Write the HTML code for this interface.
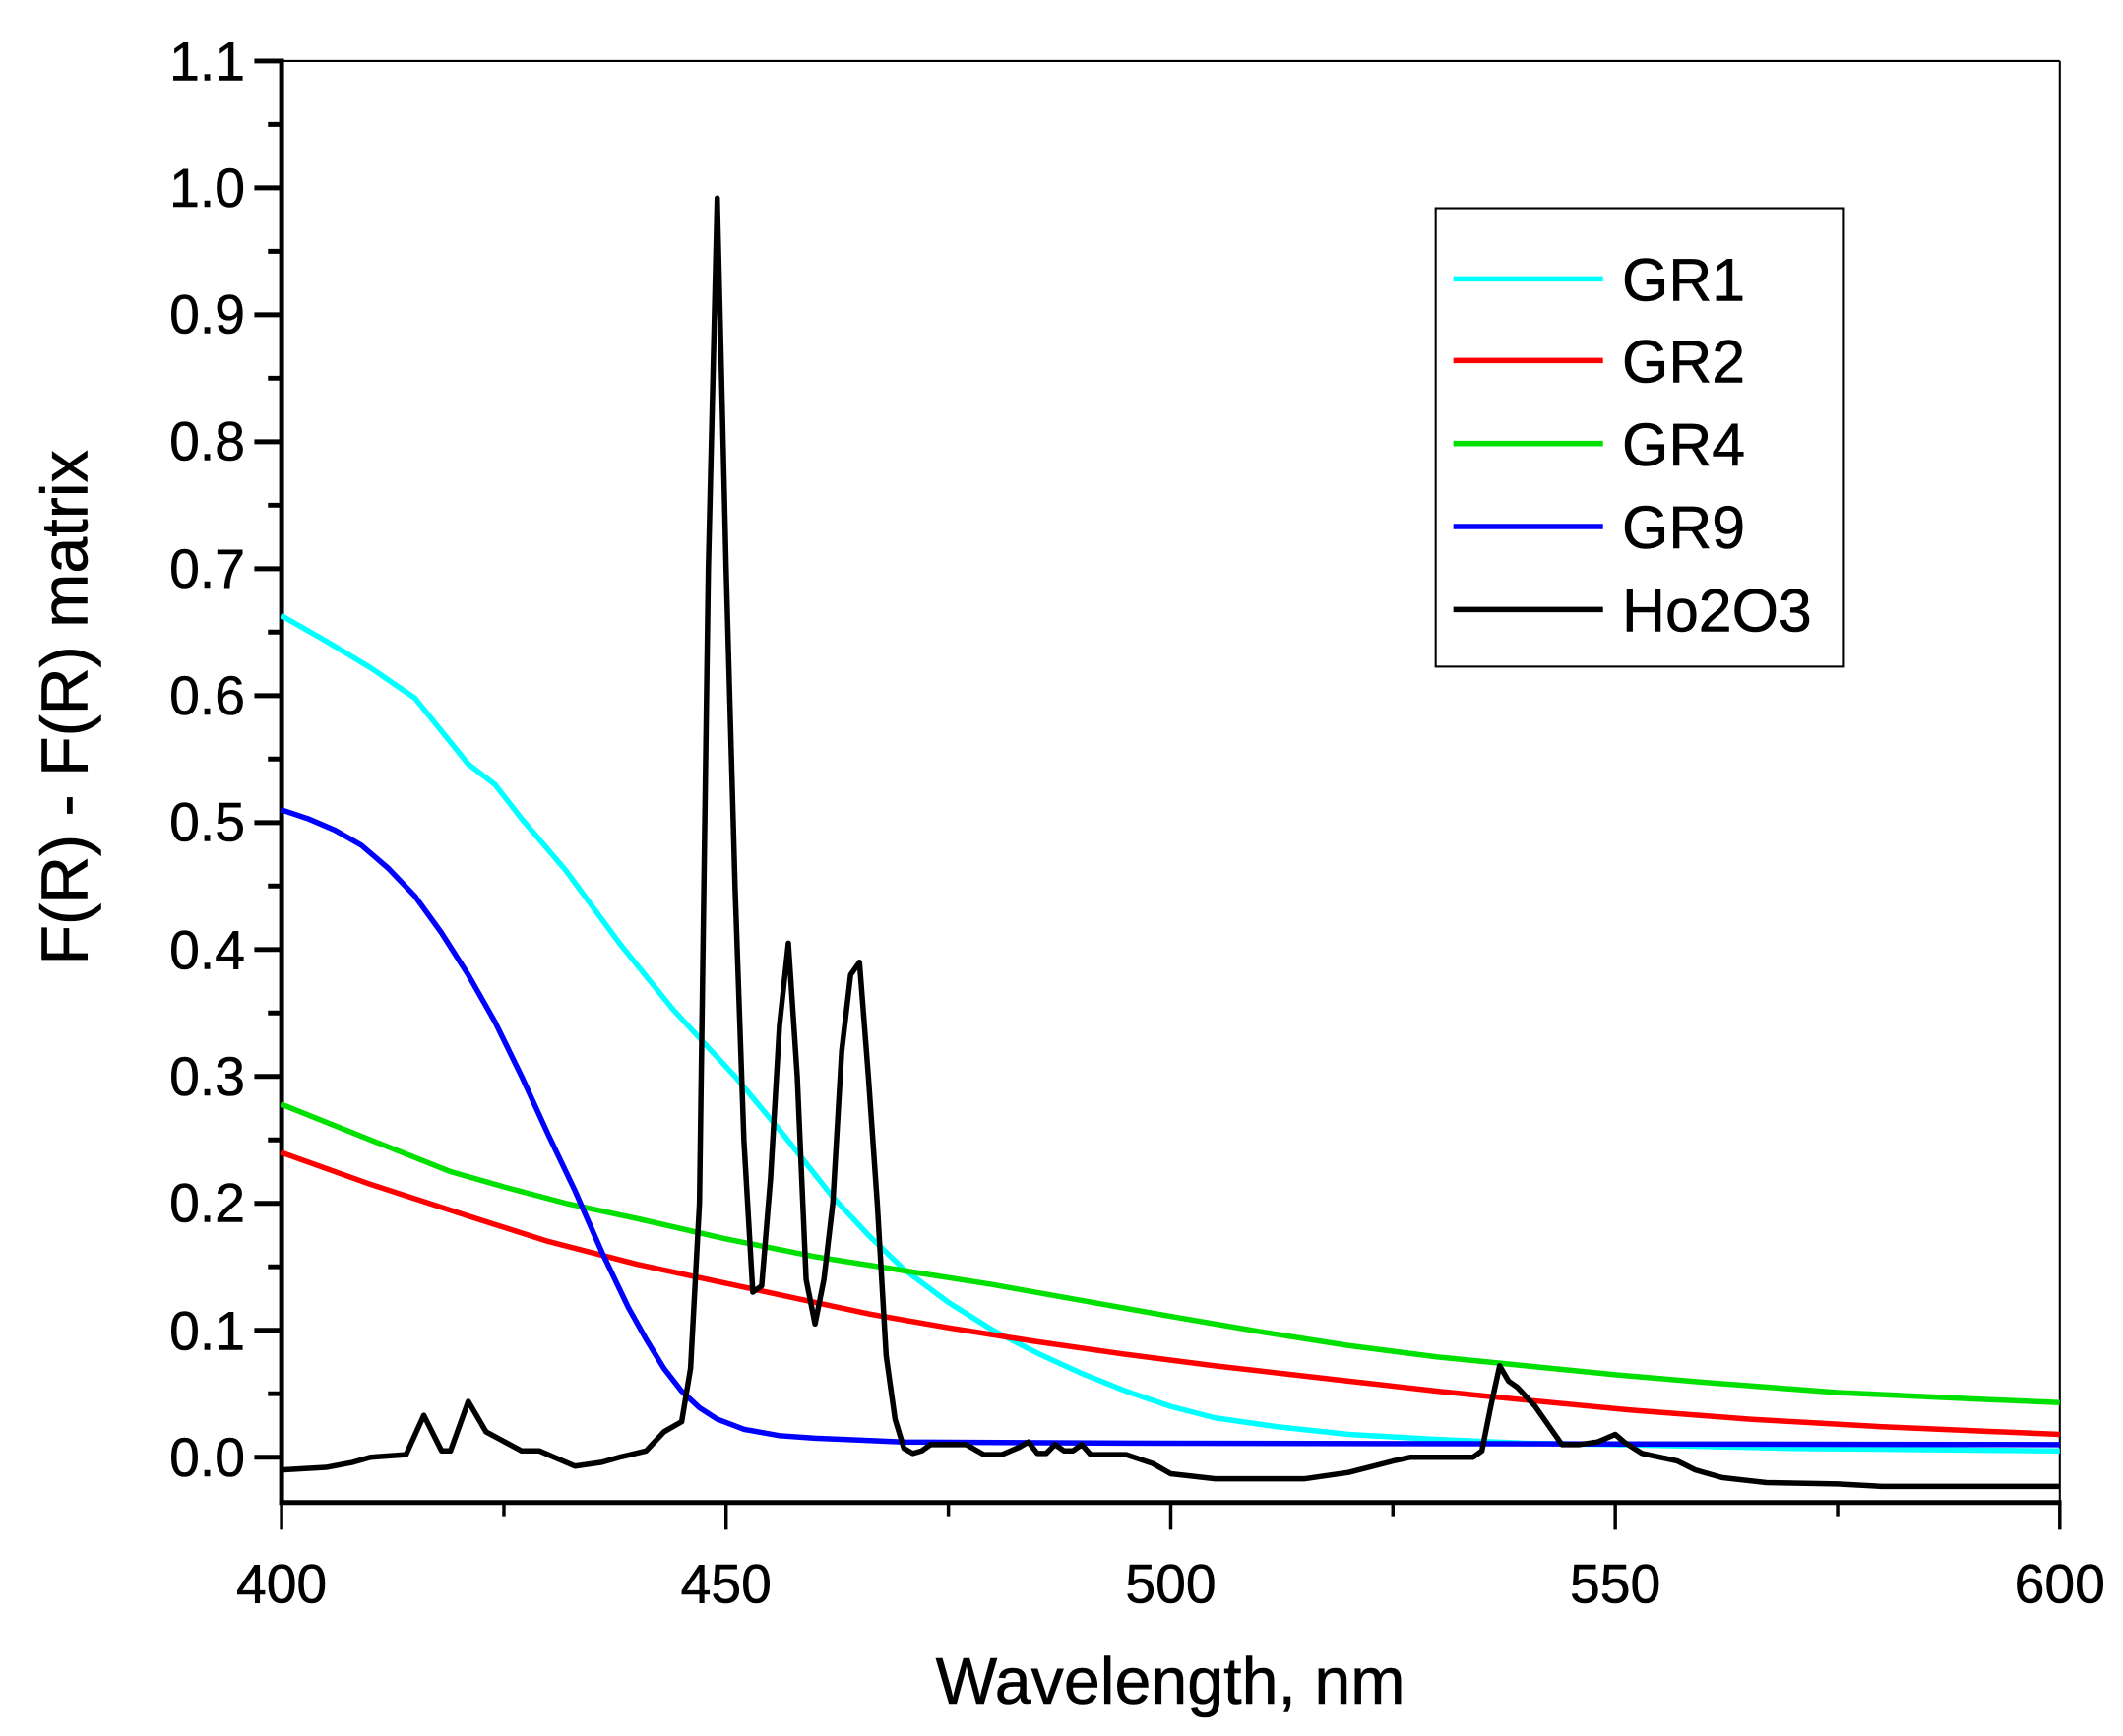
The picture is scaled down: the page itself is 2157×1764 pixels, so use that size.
<!DOCTYPE html>
<html><head><style>html,body{margin:0;padding:0;background:#fff}svg{display:block}</style></head>
<body>
<svg width="2157" height="1764" viewBox="0 0 1560 1276" xmlns="http://www.w3.org/2000/svg" font-family="Liberation Sans, Arial, sans-serif">
<rect width="1560" height="1276" fill="#fff"/>
<line x1="206.8" y1="44.8" x2="1513.7" y2="44.8" stroke="#000" stroke-width="1.5"/>
<line x1="1513.7" y1="44.8" x2="1513.7" y2="1104.4" stroke="#000" stroke-width="1.5"/>
<line x1="206.8" y1="43" x2="206.8" y2="1106" stroke="#000" stroke-width="3.6"/>
<line x1="205" y1="1104.4" x2="1515" y2="1104.4" stroke="#000" stroke-width="3.6"/>
<g stroke="#000" stroke-width="3.6">
<path d="M186.8 1071.1H206.8M186.8 977.8H206.8M186.8 884.5H206.8M186.8 791.2H206.8M186.8 697.9H206.8M186.8 604.6H206.8M186.8 511.3H206.8M186.8 418H206.8M186.8 324.7H206.8M186.8 231.4H206.8M186.8 138.1H206.8M186.8 44.8H206.8"/>
<path d="M196.8 1024.4H206.8M196.8 931.1H206.8M196.8 837.8H206.8M196.8 744.5H206.8M196.8 651.2H206.8M196.8 557.9H206.8M196.8 464.6H206.8M196.8 371.3H206.8M196.8 278H206.8M196.8 184.7H206.8M196.8 91.4H206.8"/>
</g>
<g stroke="#000" stroke-width="2.5">
<path d="M206.8 1104.4V1124.4M370.2 1104.4V1114.4M533.5 1104.4V1124.4M696.9 1104.4V1114.4M860.3 1104.4V1124.4M1023.6 1104.4V1114.4M1187 1104.4V1124.4M1350.4 1104.4V1114.4M1513.7 1104.4V1124.4"/>
</g>
<g font-size="40" text-anchor="end" fill="#000" stroke="#000" stroke-width="0.4">
<text x="180" y="1085">0.0</text><text x="180" y="992">0.1</text><text x="180" y="898">0.2</text><text x="180" y="805">0.3</text><text x="180" y="712">0.4</text><text x="180" y="618">0.5</text><text x="180" y="525">0.6</text><text x="180" y="432">0.7</text><text x="180" y="338">0.8</text><text x="180" y="245">0.9</text><text x="180" y="152">1.0</text><text x="180" y="59">1.1</text>
</g>
<g font-size="40" text-anchor="middle" fill="#000" stroke="#000" stroke-width="0.4">
<text x="206.8" y="1178">400</text><text x="533.5" y="1178">450</text><text x="860.3" y="1178">500</text><text x="1187" y="1178">550</text><text x="1513.7" y="1178">600</text>
</g>
<text x="860" y="1252" font-size="48" text-anchor="middle" stroke="#000" stroke-width="0.4">Wavelength, nm</text>
<text transform="translate(64 520) rotate(-90)" font-size="48" text-anchor="middle" stroke="#000" stroke-width="0.4">F(R) - F(R) matrix</text>
<g transform="matrix(6.5345 0 0 -0.933 -2407.0 1071.1)" fill="none" stroke-linejoin="round">
<polyline vector-effect="non-scaling-stroke" stroke="#00ffff" stroke-width="5.5" points="400,663 405,643 410,622 415,598 421,546 424,530 427,503 432,462 438,405 444,353 451,300 456,258 462,205 466,175 470,148 475,122 480,100 485,82 490,66 495,52 500,40 505,31 512,24 520,18 530,14 540,11 550,10 570,7 600,5"/>
<polyline vector-effect="non-scaling-stroke" stroke="#ff0000" stroke-width="5.5" points="400,240 410,215 421,190 430,170 440,152 450,137 458,125 466,113 475,102 485,91 495,81 505,72 520,60 530,52 540,45 552,37 565,30 580,24 600,18"/>
<polyline vector-effect="non-scaling-stroke" stroke="#00e000" stroke-width="5.5" points="400,278 410,250 419,225 425,213 432,200 440,188 450,172 460,158 470,147 480,136 492,121 500,111 510,99 520,88 530,79 540,72 550,65 560,59 575,51 590,46 600,43"/>
<polyline vector-effect="non-scaling-stroke" stroke="#0000ff" stroke-width="5.5" points="400,510 403,503 406,494 409,482 412,464 415,442 418,413 421,380 424,343 427,300 430,254 433,210 436,162 439,118 441,93 443,70 445,52 447,39 449,30 452,22 456,17 460,15 470,12 500,11 600,10"/>
<polyline vector-effect="non-scaling-stroke" stroke="#000" stroke-width="5.5" points="400,-10 405,-8 408,-4 410,0 414,2 416,33 418,5 419,5 421,44 423,20 427,5 429,5 433,-7 436,-4 438,0 441,5 443,20 445,28 446,70 447,200 448,700 449,992 450,700 451,450 452,250 453,130 454,135 455,220 456,340 457,405 458,300 459,140 460,105 461,140 462,200 463,320 464,380 465,390 466,300 467,200 468,80 469,30 470,7 471,3 472,5 473,10 477,10 479,2 481,2 483,8 484,12 485,3 486,3 487,10 488,5 489,5 490,10 491,2 495,2 498,-5 500,-13 505,-17 515,-17 520,-12 525,-3 527,0 534,0 535,5 536,40 537,72 538,60 539,55 541,40 543,20 544,10 546,10 548,12 550,18 551,12 553,3 555,0 557,-3 559,-10 562,-16 567,-20 575,-21 580,-23 600,-23"/>
</g>
<rect x="1055" y="153" width="300" height="337" fill="#fff" stroke="#000" stroke-width="1.5"/>
<g stroke-width="4">
<line x1="1068" y1="205" x2="1178" y2="205" stroke="#00ffff"/>
<line x1="1068" y1="265" x2="1178" y2="265" stroke="#ff0000"/>
<line x1="1068" y1="326" x2="1178" y2="326" stroke="#00e000"/>
<line x1="1068" y1="387" x2="1178" y2="387" stroke="#0000ff"/>
<line x1="1068" y1="448" x2="1178" y2="448" stroke="#000"/>
</g>
<g font-size="44" fill="#000" stroke="#000" stroke-width="0.4">
<text x="1192" y="221">GR1</text><text x="1192" y="281">GR2</text><text x="1192" y="342">GR4</text><text x="1192" y="403">GR9</text><text x="1192" y="464">Ho2O3</text>
</g>
</svg>
</body></html>
